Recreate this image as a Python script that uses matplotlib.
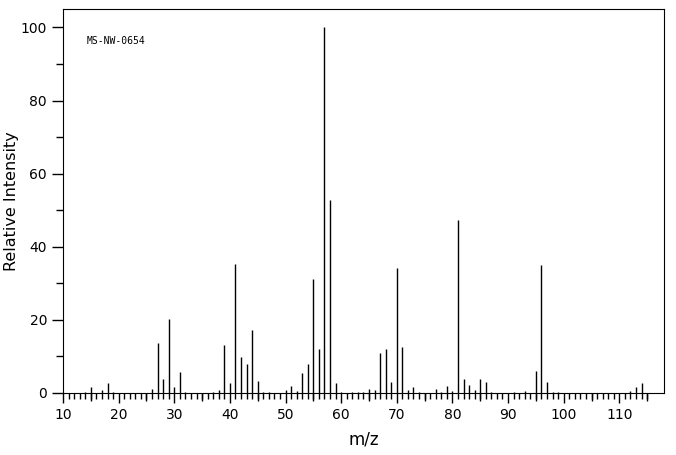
import matplotlib
matplotlib.use("Agg")
import matplotlib.pyplot as plt
import numpy as np

# peak list (m/z, relative intensity)
mz = [14, 15, 17, 18, 19, 26, 27, 28, 29, 30, 31, 32, 37, 38, 39, 40,
      41, 42, 43, 44, 45, 46, 47, 50, 51, 52, 53, 54, 55, 56, 57, 58,
      59, 60, 62, 63, 64, 65, 66, 67, 68, 69, 70, 71, 72, 73, 74, 77,
      78, 79, 80, 81, 82, 83, 84, 85, 86, 87, 91, 93, 95, 96, 97, 98,
      99, 112, 113, 114]
intensity = [0.3, 1.6, 0.7, 2.6, 0.4, 1.2, 13.8, 3.9, 20.1, 1.6, 5.8, 0.4, 0.3, 0.9, 13.0, 2.8,
             35.2, 9.9, 8.0, 17.1, 3.4, 0.4, 0.4, 0.9, 1.8, 0.6, 5.6, 7.8, 31.3, 12.1, 100.0, 52.9,
             2.7, 0.3, 0.3, 0.3, 0.3, 1.2, 0.9, 10.8, 11.9, 3.0, 34.2, 12.7, 0.9, 1.7, 0.4, 1.2,
             0.4, 2.0, 0.6, 47.4, 3.9, 2.3, 0.9, 3.9, 3.1, 0.4, 0.4, 0.6, 6.1, 35.1, 3.1, 0.4,
             0.4, 0.6, 1.5, 2.8]

fig = plt.figure(figsize=(6.76, 4.55), dpi=100)
ax = fig.add_axes([0.0932, 0.1363, 0.8888, 0.8437])

ax.vlines(mz, 0, intensity, colors="black", linewidth=1.0)

ax.set_xlim(10, 118)
ax.set_ylim(0, 105)

ax.set_xticks(np.arange(10, 111, 10))
ax.set_xticks(np.arange(10, 116, 1), minor=True)
ax.set_yticks(np.arange(0, 101, 20))
ax.set_yticks(np.arange(0, 101, 10), minor=True)

ax.tick_params(axis="x", which="major", direction="out", length=7, width=1, labelsize=10, pad=4)
ax.tick_params(axis="x", which="minor", direction="out", length=4, width=1)
ax.tick_params(axis="y", which="major", direction="out", length=8, width=1, labelsize=10)
ax.tick_params(axis="y", which="minor", direction="out", length=5, width=1)

# medium ticks every 5
sec = ax.secondary_xaxis("bottom")
sec.set_xticks(np.arange(15, 116, 10))
sec.tick_params(direction="out", length=6, width=1, labelbottom=False)
sec.spines["bottom"].set_visible(False)

ax.set_xlabel("m/z", fontsize=12, labelpad=6)
ax.set_ylabel("Relative Intensity", fontsize=11.5)
ax.yaxis.set_label_coords(-0.073, 0.5)

ax.text(0.04, 0.917, "MS-NW-0654", transform=ax.transAxes, fontsize=7,
        family="DejaVu Sans Mono", va="center", ha="left")

fig.savefig("out.png", dpi=100)
